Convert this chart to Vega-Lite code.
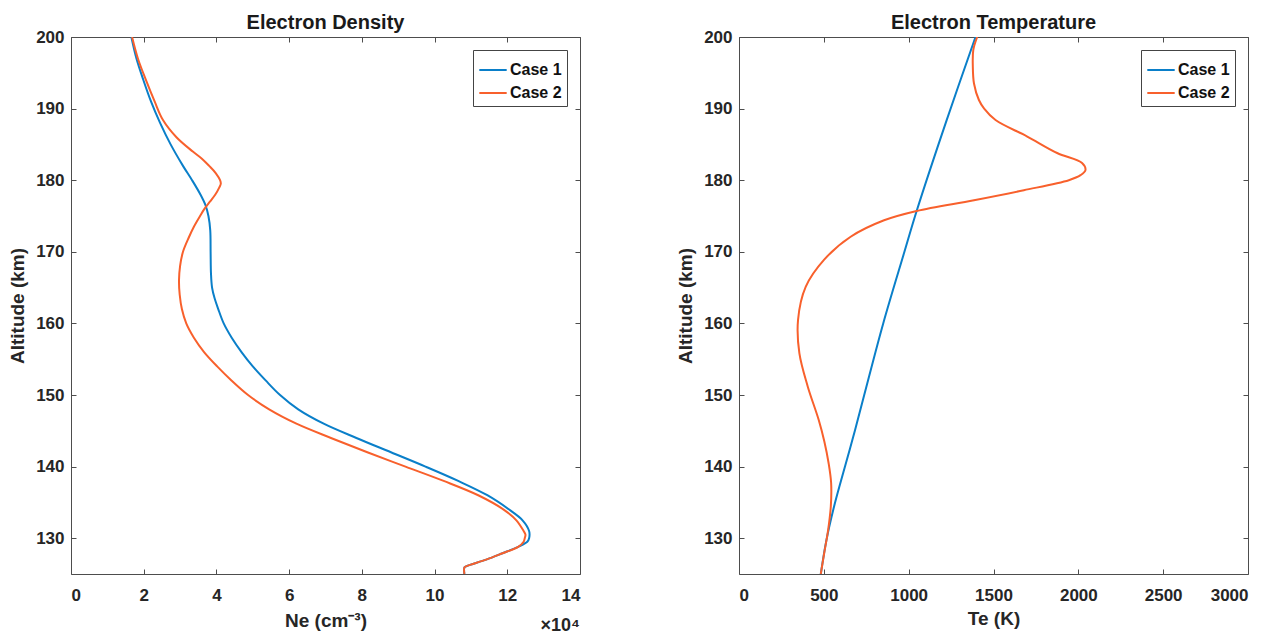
{
  "$schema": "https://vega.github.io/schema/vega-lite/v6.json",
  "background": "white",
  "padding": {"left": 8, "top": 12, "right": 5, "bottom": 5},
  "config": {
    "font": "Liberation Sans",
    "view": {"stroke": "#4d4d4d", "strokeWidth": 1},
    "axis": {"domain": false, "grid": false, "tickColor": "#4d4d4d", "tickSize": -5, "tickWidth": 1, "format": "d",
      "labelFont": "Liberation Sans", "labelFontSize": 17, "labelFontWeight": "bold", "labelColor": "#262626",
      "titleFont": "Liberation Sans", "titleFontSize": 19, "titleFontWeight": "bold", "titleColor": "#262626"},
    "title": {"fontSize": 20, "fontWeight": "bold", "font": "Liberation Sans", "color": "#1a1a1a", "offset": -5, "frame": "group"},
    "legend": {"orient": "top-right", "offset": 13, "strokeColor": "#444444", "fillColor": "white", "padding": 5,
      "symbolType": "stroke", "symbolSize": 750, "symbolStrokeWidth": 2, "labelFont": "Liberation Sans",
      "labelFontSize": 16, "labelFontWeight": "bold", "labelColor": "#111111", "rowPadding": -4, "labelOffset": 2}
  },
  "datasets": {
    "ne": [
      {"case": "Case 1", "alt": 200, "v": 1.66}, {"case": "Case 1", "alt": 197, "v": 1.8}, {"case": "Case 1", "alt": 194, "v": 1.99},
      {"case": "Case 1", "alt": 191, "v": 2.2}, {"case": "Case 1", "alt": 188, "v": 2.45}, {"case": "Case 1", "alt": 185, "v": 2.74},
      {"case": "Case 1", "alt": 182, "v": 3.08}, {"case": "Case 1", "alt": 180, "v": 3.33},
      {"case": "Case 1", "alt": 178, "v": 3.56}, {"case": "Case 1", "alt": 176.5, "v": 3.7}, {"case": "Case 1", "alt": 175, "v": 3.78},
      {"case": "Case 1", "alt": 173, "v": 3.83}, {"case": "Case 1", "alt": 170, "v": 3.84}, {"case": "Case 1", "alt": 167, "v": 3.85},
      {"case": "Case 1", "alt": 165, "v": 3.88}, {"case": "Case 1", "alt": 163.5, "v": 3.95}, {"case": "Case 1", "alt": 162, "v": 4.05},
      {"case": "Case 1", "alt": 160, "v": 4.2}, {"case": "Case 1", "alt": 158, "v": 4.42}, {"case": "Case 1", "alt": 156, "v": 4.69},
      {"case": "Case 1", "alt": 154, "v": 5.0}, {"case": "Case 1", "alt": 152, "v": 5.36}, {"case": "Case 1", "alt": 150, "v": 5.75},
      {"case": "Case 1", "alt": 148, "v": 6.25}, {"case": "Case 1", "alt": 146, "v": 6.95}, {"case": "Case 1", "alt": 144, "v": 7.85},
      {"case": "Case 1", "alt": 142, "v": 8.8}, {"case": "Case 1", "alt": 140, "v": 9.75}, {"case": "Case 1", "alt": 138, "v": 10.65},
      {"case": "Case 1", "alt": 136, "v": 11.45}, {"case": "Case 1", "alt": 134, "v": 12.05}, {"case": "Case 1", "alt": 132.5, "v": 12.42},
      {"case": "Case 1", "alt": 131, "v": 12.6}, {"case": "Case 1", "alt": 130, "v": 12.6}, {"case": "Case 1", "alt": 129.5, "v": 12.55},
      {"case": "Case 1", "alt": 128.8, "v": 12.3}, {"case": "Case 1", "alt": 127.9, "v": 11.87}, {"case": "Case 1", "alt": 127, "v": 11.42},
      {"case": "Case 1", "alt": 126.1, "v": 10.88}, {"case": "Case 1", "alt": 125.9, "v": 10.82}, {"case": "Case 1", "alt": 125, "v": 10.82},
      {"case": "Case 2", "alt": 200, "v": 1.68}, {"case": "Case 2", "alt": 197, "v": 1.84}, {"case": "Case 2", "alt": 194, "v": 2.06},
      {"case": "Case 2", "alt": 191, "v": 2.3}, {"case": "Case 2", "alt": 188.4, "v": 2.53},
      {"case": "Case 2", "alt": 186, "v": 2.9}, {"case": "Case 2", "alt": 184, "v": 3.35}, {"case": "Case 2", "alt": 183, "v": 3.6},
      {"case": "Case 2", "alt": 182, "v": 3.8}, {"case": "Case 2", "alt": 181, "v": 3.98}, {"case": "Case 2", "alt": 180, "v": 4.1},
      {"case": "Case 2", "alt": 179.5, "v": 4.12}, {"case": "Case 2", "alt": 179, "v": 4.08}, {"case": "Case 2", "alt": 178, "v": 3.97},
      {"case": "Case 2", "alt": 177, "v": 3.82}, {"case": "Case 2", "alt": 176, "v": 3.67}, {"case": "Case 2", "alt": 175, "v": 3.55},
      {"case": "Case 2", "alt": 173.5, "v": 3.38}, {"case": "Case 2", "alt": 172, "v": 3.24}, {"case": "Case 2", "alt": 170, "v": 3.08},
      {"case": "Case 2", "alt": 168, "v": 3.0}, {"case": "Case 2", "alt": 166, "v": 2.97}, {"case": "Case 2", "alt": 164, "v": 2.99},
      {"case": "Case 2", "alt": 162, "v": 3.05}, {"case": "Case 2", "alt": 160, "v": 3.17}, {"case": "Case 2", "alt": 158, "v": 3.38},
      {"case": "Case 2", "alt": 156, "v": 3.66}, {"case": "Case 2", "alt": 154, "v": 4.02}, {"case": "Case 2", "alt": 152, "v": 4.42},
      {"case": "Case 2", "alt": 150, "v": 4.87}, {"case": "Case 2", "alt": 148, "v": 5.45}, {"case": "Case 2", "alt": 146, "v": 6.2},
      {"case": "Case 2", "alt": 144, "v": 7.15}, {"case": "Case 2", "alt": 142, "v": 8.15}, {"case": "Case 2", "alt": 140, "v": 9.2},
      {"case": "Case 2", "alt": 138, "v": 10.25}, {"case": "Case 2", "alt": 136, "v": 11.2}, {"case": "Case 2", "alt": 134, "v": 11.9},
      {"case": "Case 2", "alt": 132.5, "v": 12.25}, {"case": "Case 2", "alt": 131, "v": 12.45}, {"case": "Case 2", "alt": 130.5, "v": 12.5},
      {"case": "Case 2", "alt": 130, "v": 12.48}, {"case": "Case 2", "alt": 129.5, "v": 12.45}, {"case": "Case 2", "alt": 128.8, "v": 12.3},
      {"case": "Case 2", "alt": 127.9, "v": 11.87}, {"case": "Case 2", "alt": 127, "v": 11.42}, {"case": "Case 2", "alt": 126.1, "v": 10.88},
      {"case": "Case 2", "alt": 125.9, "v": 10.82}, {"case": "Case 2", "alt": 125, "v": 10.82}
    ],
    "te": [
      {"case": "Case 1", "alt": 200, "v": 1394}, {"case": "Case 1", "alt": 188.4, "v": 1224}, {"case": "Case 1", "alt": 175.7, "v": 1047},
      {"case": "Case 1", "alt": 170, "v": 975}, {"case": "Case 1", "alt": 160, "v": 850}, {"case": "Case 1", "alt": 150, "v": 738},
      {"case": "Case 1", "alt": 143.7, "v": 668}, {"case": "Case 1", "alt": 138.1, "v": 602}, {"case": "Case 1", "alt": 134.4, "v": 560},
      {"case": "Case 1", "alt": 129.7, "v": 515}, {"case": "Case 1", "alt": 125, "v": 482},
      {"case": "Case 2", "alt": 200, "v": 1404}, {"case": "Case 2", "alt": 198.2, "v": 1381}, {"case": "Case 2", "alt": 196, "v": 1378},
      {"case": "Case 2", "alt": 193.5, "v": 1385}, {"case": "Case 2", "alt": 191.2, "v": 1414}, {"case": "Case 2", "alt": 190, "v": 1445},
      {"case": "Case 2", "alt": 188.4, "v": 1512}, {"case": "Case 2", "alt": 186.1, "v": 1699}, {"case": "Case 2", "alt": 183.8, "v": 1875},
      {"case": "Case 2", "alt": 182.4, "v": 2022}, {"case": "Case 2", "alt": 181.4, "v": 2042}, {"case": "Case 2", "alt": 180.7, "v": 2013},
      {"case": "Case 2", "alt": 180.0, "v": 1944}, {"case": "Case 2", "alt": 178.6, "v": 1679}, {"case": "Case 2", "alt": 177.2, "v": 1385},
      {"case": "Case 2", "alt": 175.7, "v": 1047}, {"case": "Case 2", "alt": 174.4, "v": 855}, {"case": "Case 2", "alt": 172.1, "v": 658},
      {"case": "Case 2", "alt": 168.9, "v": 502}, {"case": "Case 2", "alt": 165.1, "v": 393}, {"case": "Case 2", "alt": 160.5, "v": 348},
      {"case": "Case 2", "alt": 155.8, "v": 356}, {"case": "Case 2", "alt": 151.2, "v": 405}, {"case": "Case 2", "alt": 146.5, "v": 470},
      {"case": "Case 2", "alt": 143.5, "v": 503}, {"case": "Case 2", "alt": 140.5, "v": 528}, {"case": "Case 2", "alt": 137.7, "v": 543},
      {"case": "Case 2", "alt": 134.4, "v": 541}, {"case": "Case 2", "alt": 131.1, "v": 525}, {"case": "Case 2", "alt": 127.9, "v": 502},
      {"case": "Case 2", "alt": 125, "v": 482}
    ],
    "note": [{"v": 14, "alt": 125, "t": "×10⁴"}]
  },
  "spacing": 95,
  "resolve": {"scale": {"color": "independent"}},
  "hconcat": [
    {
      "width": 509, "height": 537,
      "title": "Electron Density",
      "resolve": {"axis": {"x": "independent", "y": "independent"}},
      "layer": [
        {
          "data": {"name": "ne"},
          "mark": {"type": "line", "strokeWidth": 2, "clip": true, "interpolate": "catmull-rom"},
          "encoding": {
            "x": {"field": "v", "type": "quantitative", "scale": {"domain": [0, 14], "nice": false, "zero": false},
              "axis": {"values": [0, 2, 4, 6, 8, 10, 12, 14], "title": "Ne (cm⁻³)", "labelPadding": 18, "titlePadding": 8}},
            "y": {"field": "alt", "type": "quantitative", "scale": {"domain": [125, 200], "nice": false, "zero": false},
              "axis": {"values": [130, 140, 150, 160, 170, 180, 190, 200], "title": "Altitude (km)", "labelPadding": 12, "titlePadding": 8}},
            "color": {"field": "case", "type": "nominal", "scale": {"domain": ["Case 1", "Case 2"], "range": ["#0a7fc9", "#f8602c"]}, "legend": {"title": null}},
            "order": {"field": "alt", "sort": "descending"}
          }
        },
        {
          "data": {"name": "ne"},
          "mark": {"type": "line", "strokeOpacity": 0},
          "encoding": {
            "x": {"field": "v", "type": "quantitative", "scale": {"domain": [0, 14], "nice": false, "zero": false},
              "axis": {"orient": "top", "values": [0, 2, 4, 6, 8, 10, 12, 14], "labels": false, "title": null}},
            "y": {"field": "alt", "type": "quantitative", "scale": {"domain": [125, 200], "nice": false, "zero": false},
              "axis": {"orient": "right", "values": [130, 140, 150, 160, 170, 180, 190, 200], "labels": false, "title": null}},
            "detail": {"field": "case"},
            "order": {"field": "alt", "sort": "descending"}
          }
        },
        {
          "data": {"name": "note"},
          "mark": {"type": "text", "align": "right", "baseline": "alphabetic", "dy": 57, "fontSize": 18, "fontWeight": "bold", "color": "#262626", "clip": false},
          "encoding": {
            "x": {"field": "v", "type": "quantitative", "axis": null},
            "y": {"field": "alt", "type": "quantitative", "axis": null},
            "text": {"field": "t"}
          }
        }
      ]
    },
    {
      "width": 509, "height": 537,
      "title": "Electron Temperature",
      "resolve": {"axis": {"x": "independent", "y": "independent"}},
      "layer": [
        {
          "data": {"name": "te"},
          "mark": {"type": "line", "strokeWidth": 2, "clip": true, "interpolate": "catmull-rom"},
          "encoding": {
            "x": {"field": "v", "type": "quantitative", "scale": {"domain": [0, 3000], "nice": false, "zero": false},
              "axis": {"values": [0, 500, 1000, 1500, 2000, 2500, 3000], "title": "Te (K)", "labelPadding": 18, "titlePadding": 6}},
            "y": {"field": "alt", "type": "quantitative", "scale": {"domain": [125, 200], "nice": false, "zero": false},
              "axis": {"values": [130, 140, 150, 160, 170, 180, 190, 200], "title": "Altitude (km)", "labelPadding": 12, "titlePadding": 8}},
            "color": {"field": "case", "type": "nominal", "scale": {"domain": ["Case 1", "Case 2"], "range": ["#0a7fc9", "#f8602c"]}, "legend": {"title": null}},
            "order": {"field": "alt", "sort": "descending"}
          }
        },
        {
          "data": {"name": "te"},
          "mark": {"type": "line", "strokeOpacity": 0},
          "encoding": {
            "x": {"field": "v", "type": "quantitative", "scale": {"domain": [0, 3000], "nice": false, "zero": false},
              "axis": {"orient": "top", "values": [0, 500, 1000, 1500, 2000, 2500, 3000], "labels": false, "title": null}},
            "y": {"field": "alt", "type": "quantitative", "scale": {"domain": [125, 200], "nice": false, "zero": false},
              "axis": {"orient": "right", "values": [130, 140, 150, 160, 170, 180, 190, 200], "labels": false, "title": null}},
            "detail": {"field": "case"},
            "order": {"field": "alt", "sort": "descending"}
          }
        }
      ]
    }
  ]
}
